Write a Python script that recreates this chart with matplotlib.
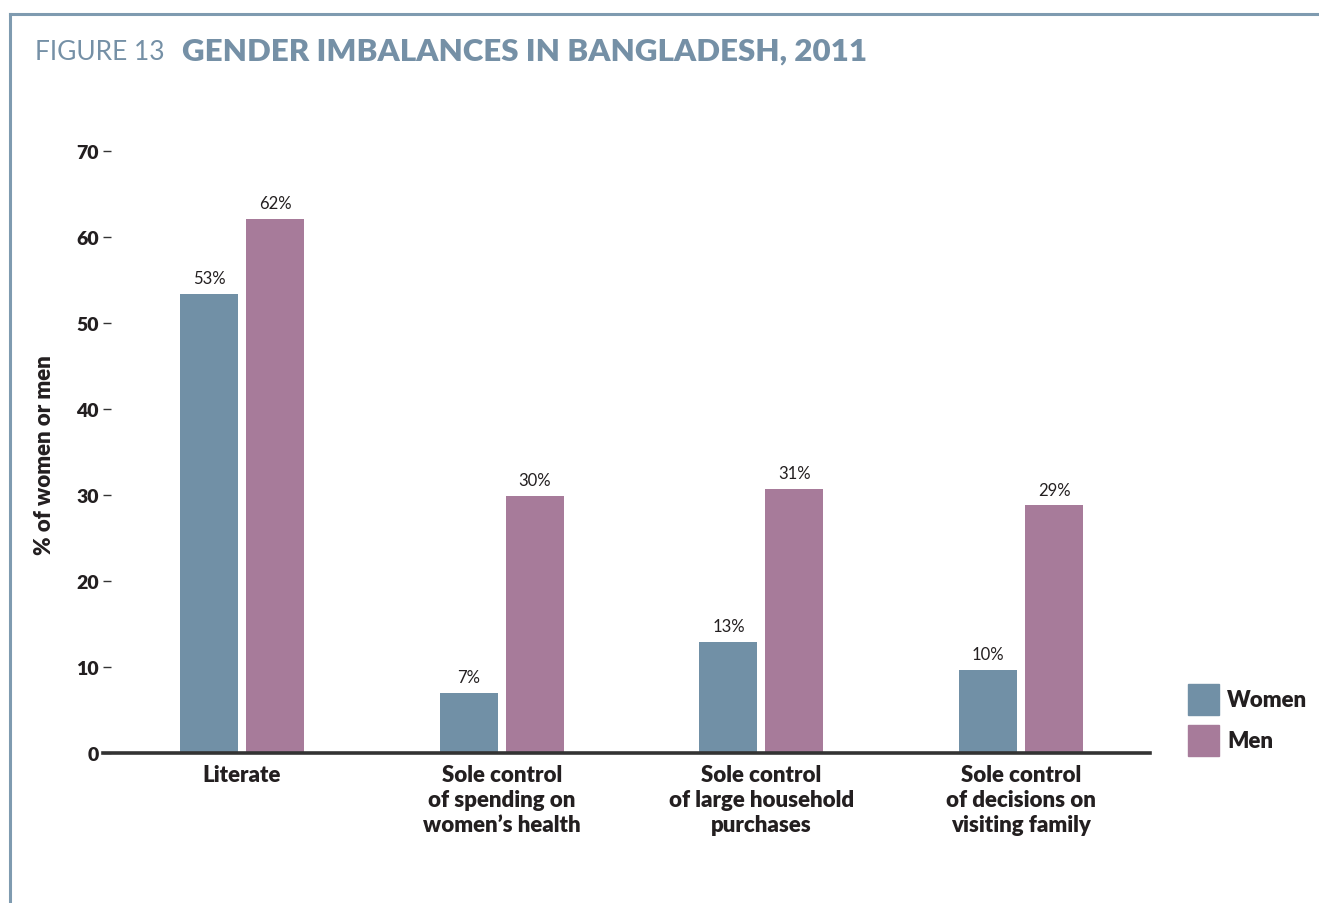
import matplotlib
matplotlib.use("Agg")
import matplotlib.pyplot as plt
from matplotlib.patches import Rectangle
from matplotlib.lines import Line2D

categories = ["Literate", "Sole control\nof spending on\nwomen\u2019s health",
              "Sole control\nof large household\npurchases", "Sole control\nof decisions on\nvisiting family"]
women = [53.4, 7.0, 12.9, 9.7]
men = [62.1, 29.9, 30.7, 28.8]
women_labels = ["53%", "7%", "13%", "10%"]
men_labels = ["62%", "30%", "31%", "29%"]
yticks = [0, 10, 20, 30, 40, 50, 60, 70]

C_W = "#7190a6"
C_M = "#a77b9a"
C_FRAME = "#7f9bb0"
C_TITLE = "#7590a6"
C_TEXT = "#231f20"
FONT = "Lato"
BW = "heavy"

W, H = 1319, 904
fig = plt.figure(figsize=(W / 100, H / 100), dpi=100)
fig.patch.set_facecolor("white")

# frame lines
fig.add_artist(Line2D([10 / W, 1], [1 - 15 / H, 1 - 15 / H], color=C_FRAME, lw=2.2, transform=fig.transFigure))
fig.add_artist(Line2D([10 / W, 10 / W], [0, 1 - 15 / H], color=C_FRAME, lw=2.2, transform=fig.transFigure))

# title
t1 = fig.text(35 / W, 1 - 52 / H, "FIGURE 13", fontsize=19, color=C_TITLE, family=FONT,
              va="center", ha="left")
fig.canvas.draw()
bb = t1.get_window_extent()
fig.text((bb.x1 + 17) / W, 1 - 52 / H, "GENDER IMBALANCES IN BANGLADESH, 2011", fontsize=22.5,
         color=C_TITLE, family=FONT, fontweight=BW, va="center", ha="left")

ax = fig.add_axes([103 / W, 1 - 754 / H, (1150 - 103) / W, (754 - 152) / H])
ax.set_xlim(-0.535, 3.496)
ax.set_ylim(0, 70)

x = range(len(categories))
bw = 0.223
off = 0.127
ax.bar([i - off for i in x], women, width=bw, color=C_W, zorder=2)
ax.bar([i + off for i in x], men, width=bw, color=C_M, zorder=2)
for i in x:
    ax.text(i - off, women[i] + 0.9, women_labels[i], ha="center", va="bottom", fontsize=12,
            family=FONT, color=C_TEXT)
    ax.text(i + off, men[i] + 0.9, men_labels[i], ha="center", va="bottom", fontsize=12,
            family=FONT, color=C_TEXT)

for s in ["top", "right", "left"]:
    ax.spines[s].set_visible(False)
ax.spines["bottom"].set_linewidth(2.6)
ax.spines["bottom"].set_color("#333333")
ax.spines["bottom"].set_zorder(3)

ax.set_yticks(yticks)
ax.set_yticklabels([str(v) for v in yticks], fontsize=14, fontweight=BW, family=FONT, color=C_TEXT)
ax.tick_params(axis="y", direction="in", length=6, width=1, color="#333333", pad=3)

ax.set_xticks(list(x))
ax.set_xticklabels(categories, fontsize=16, fontweight=BW, family=FONT, color=C_TEXT,
                   linespacing=1.22)
ax.tick_params(axis="x", length=0, pad=8)

fig.text(45 / W, 1 - 455 / H, "% of women or men", rotation=90, fontsize=16, fontweight=BW,
         family=FONT, color=C_TEXT, ha="center", va="center")

# legend
for j, (lab, c) in enumerate([("Women", C_W), ("Men", C_M)]):
    y0 = 685 + j * 41
    fig.add_artist(Rectangle((1188 / W, 1 - (y0 + 31) / H), 31 / W, 31 / H, color=c,
                             transform=fig.transFigure))
    fig.text(1227 / W, 1 - (y0 + 16) / H, lab, fontsize=16, fontweight=BW, family=FONT,
             color=C_TEXT, ha="left", va="center")

fig.savefig("out.png", dpi=100)
